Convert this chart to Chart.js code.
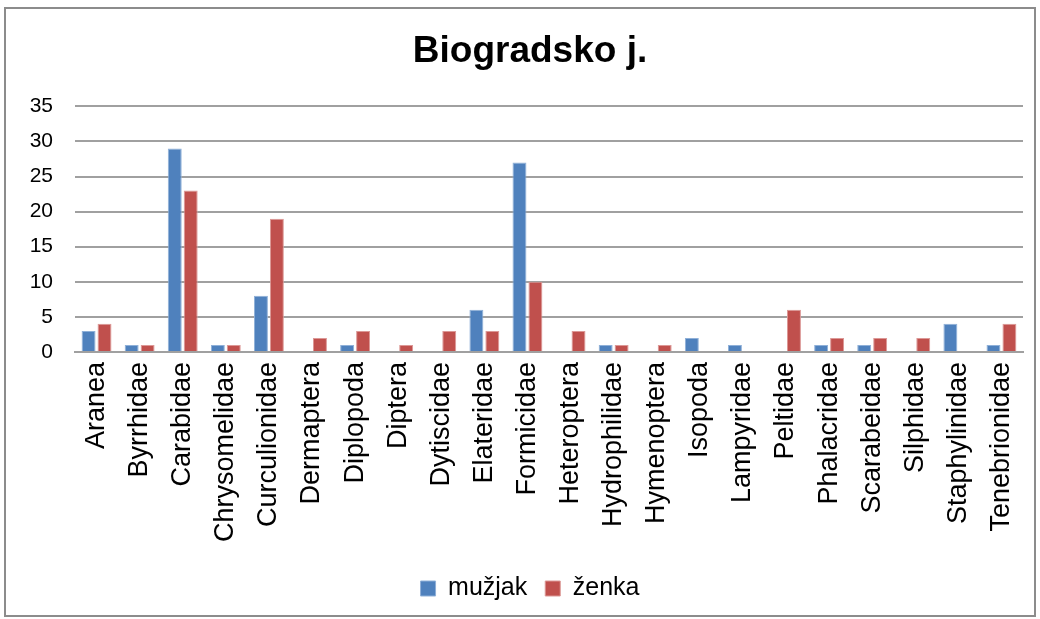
<!DOCTYPE html>
<html>
<head>
<meta charset="utf-8">
<script src="https://cdn.jsdelivr.net/npm/chart.js@4"></script>
<style>
  body { margin: 0; background: #fff; }
  #wrap {
    position: absolute; left: 4px; top: 7px;
    width: 1032px; height: 610px;
    border: 2px solid #8c8c8c; box-sizing: border-box;
  }
</style>
</head>
<body>
<div id="wrap"><canvas id="chartCanvas"></canvas></div>
<script>
// kategorije (porodice / grupe)
const categories = ['Aranea', 'Byrrhidae', 'Carabidae', 'Chrysomelidae', 'Curculionidae',
  'Dermaptera', 'Diplopoda', 'Diptera', 'Dytiscidae', 'Elateridae', 'Formicidae',
  'Heteroptera', 'Hydrophilidae', 'Hymenoptera', 'Isopoda', 'Lampyridae', 'Peltidae',
  'Phalacridae', 'Scarabeidae', 'Silphidae', 'Staphylinidae', 'Tenebrionidae'];

const muzjak = [3, 1, 29, 1, 8, 0, 1, 0, 0, 6, 27, 0, 1, 0, 2, 1, 0, 1, 1, 0, 4, 1];
const zenka  = [4, 1, 23, 1, 19, 2, 3, 1, 3, 3, 10, 3, 1, 1, 0, 0, 6, 2, 2, 2, 0, 4];

const yTicks = [0, 5, 10, 15, 20, 25, 30, 35];

const ctx = document.getElementById('chartCanvas').getContext('2d');
const chart = new Chart(ctx, {
  type: 'bar',
  data: {
    labels: categories,
    datasets: [
      { label: 'mužjak', data: muzjak, backgroundColor: '#4F81BD', borderColor: '#8fb0d8', borderWidth: 1 },
      { label: 'ženka', data: zenka, backgroundColor: '#C0504D', borderColor: '#dc9896', borderWidth: 1 }
    ]
  },
  options: {
    responsive: true,
    maintainAspectRatio: false,
    animation: false,
    categoryPercentage: 0.74,
    barPercentage: 0.875,
    layout: { padding: { left: 22, right: 2, top: 4, bottom: 4 } },
    plugins: {
      title: {
        display: true,
        text: 'Biogradsko j.',
        color: '#000',
        font: { family: 'Liberation Sans', size: 37, weight: 'bold' },
        padding: { top: 17, bottom: 32 }
      },
      legend: {
        position: 'bottom',
        labels: {
          color: '#000',
          font: { family: 'Liberation Sans', size: 25 },
          boxWidth: 15, boxHeight: 15,
          padding: 18
        }
      },
      tooltip: { enabled: false }
    },
    scales: {
      x: {
        grid: { display: false, drawTicks: false },
        border: { color: '#a0a0a0', width: 2 },
        ticks: {
          color: '#000',
          font: { family: 'Liberation Sans', size: 27 },
          minRotation: 90, maxRotation: 90,
          autoSkip: false,
          padding: 10
        },
        afterFit: scale => {
          scale.height += 6;
          scale.paddingLeft = 0;
          scale.paddingRight = 11;
        }
      },
      y: {
        min: 0, max: 35,
        afterBuildTicks: axis => { axis.ticks = yTicks.map(v => ({ value: v })); },
        afterFit: scale => { scale.width = 47; },
        grid: { color: '#a0a0a0', lineWidth: 2, drawTicks: false },
        border: { display: false },
        ticks: {
          color: '#000',
          font: { family: 'Liberation Sans', size: 21 },
          padding: 22
        }
      }
    }
  }
});
</script>
</body>
</html>
